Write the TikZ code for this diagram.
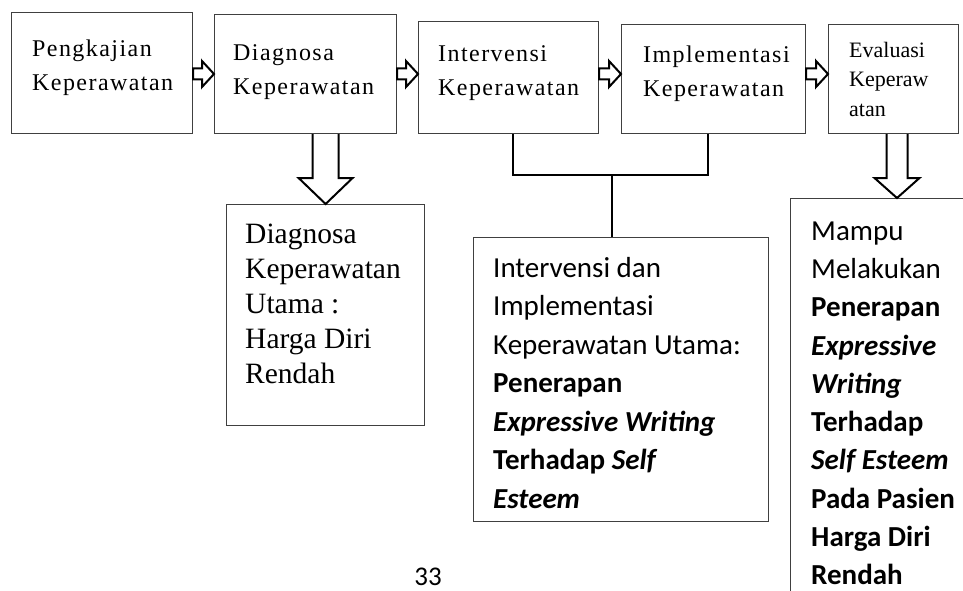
\documentclass[tikz,border=0pt]{standalone}
\usepackage{fontspec}
\setmainfont{Liberation Serif}
\newfontfamily\calibri{Carlito}
\newfontfamily\renggang[LetterSpace=6]{Liberation Serif}
\usepackage{tikz}
\usetikzlibrary{calc}

% hollow arrow pointing down: top, tip, shaft half width, head half width, head length
\newcommand{\droparrow}[5]{%
  \draw[panah] ($(#1)+(-#3,0)$) -- ($(#2)+(-#3,-#5)$) -- ($(#2)+(-#4,-#5)$) -- (#2)
    -- ($(#2)+(#4,-#5)$) -- ($(#2)+(#3,-#5)$) -- ($(#1)+(#3,0)$);}

\tikzset{
  kotak/.style={draw=black!75, line width=1.2pt, anchor=north west, inner sep=0pt},
  teks/.style={anchor=north west, inner sep=0pt, align=left},
  judul/.style={teks, font=\renggang\fontsize{24}{34}\selectfont},
  panah/.style={draw=black, line width=2pt, fill=white, line join=miter},
  garis/.style={black, line width=2pt}
}

\begin{document}
\begin{tikzpicture}[x=1pt, y=-1pt]
        \useasboundingbox (0,0) rectangle (963,591);
        \clip (0,0) rectangle (963,591);

        % Tahap proses keperawatan
        \node[kotak, minimum width=181pt, minimum height=121pt] (pengkajian) at (11,12) {};
        \node[kotak, minimum width=182pt, minimum height=119pt] (diagnosa) at (214,14) {};
        \node[kotak, minimum width=180pt, minimum height=112pt] (intervensi) at (418,21) {};
        \node[kotak, minimum width=184pt, minimum height=109pt] (implementasi) at (621,24) {};
        \node[kotak, minimum width=130pt, minimum height=109pt] (evaluasi) at (828,24) {};

        \node[judul] (t1) at (32,39.6) {Pengkajian\\Keperawatan};
        \node[judul] (t2) at (233,44) {Diagnosa\\Keperawatan};
        \node[judul] (t3) at (438,45) {Intervensi\\Keperawatan};
        \node[judul] (t4) at (643,46) {Implementasi\\Keperawatan};
        \node[teks, font=\fontsize{22}{29.5}\selectfont] (t5) at (849,42) {Evaluasi\\Keperaw\\atan};

        % Hasil
        \node[kotak, minimum width=198pt, minimum height=221pt] (utama) at (226,204) {};
        \node[kotak, minimum width=295pt, minimum height=284pt] (gabung) at (473,237) {};
        \node[kotak, minimum width=200pt, minimum height=420pt] (mampu) at (790,198) {};

        \node[teks, font=\fontsize{29.5}{35}\selectfont] (t6) at (245,223.5)
            {Diagnosa\\Keperawatan\\Utama :\\Harga Diri\\Rendah};
        \node[teks, font=\calibri\fontsize{29}{38.5}\selectfont] (t7) at (493,257)
            {Intervensi dan\\Implementasi\\Keperawatan Utama:\\\textbf{Penerapan}\\
             \textbf{\textit{Expressive Writing}}\\\textbf{Terhadap \textit{Self}}\\\textbf{\textit{Esteem}}};
        \node[teks, font=\calibri\fontsize{29}{38.3}\selectfont] (t8) at (811,221.3)
            {Mampu\\Melakukan\\\textbf{Penerapan}\\\textbf{\textit{Expressive}}\\\textbf{\textit{Writing}}\\
             \textbf{Terhadap}\\\textbf{\textit{Self Esteem}}\\\textbf{Pada Pasien}\\\textbf{Harga Diri}\\\textbf{Rendah}};

        % Panah antar tahap
        \coordinate (lvl) at (0,74);
        \foreach \a/\b in {pengkajian/diagnosa, diagnosa/intervensi, intervensi/implementasi, implementasi/evaluasi} {
            \draw[panah] (\a.east |- lvl) ++(0,-5.5) -- ($(\b.west |- lvl)+(-12,-5.5)$)
                -- ($(\b.west |- lvl)+(-12,-13)$) -- (\b.west |- lvl) -- ($(\b.west |- lvl)+(-12,13)$)
                -- ($(\b.west |- lvl)+(-12,5.5)$) -- ($(\a.east |- lvl)+(0,5.5)$) -- cycle;
        }

        % Panah ke bawah
        \droparrow{utama.north |- diagnosa.south}{utama.north}{13}{27}{26}
        \coordinate (ujung) at ($(mampu.north west)+(107,0)$);
        \droparrow{ujung |- evaluasi.south}{ujung}{10.5}{22.5}{20}

        % Intervensi + implementasi
        \coordinate (cabang) at (612,175);
        \draw[garis] ([xshift=4pt]intervensi.south) |- (cabang) -| ([xshift=-6pt]implementasi.south);
        \draw[garis] (cabang) -- (cabang |- gabung.north);

        % Nomor halaman
        \node[font=\calibri\fontsize{27}{30}\selectfont, anchor=base, inner sep=0pt] (halaman) at (428,585) {33};
\end{tikzpicture}
\end{document}
